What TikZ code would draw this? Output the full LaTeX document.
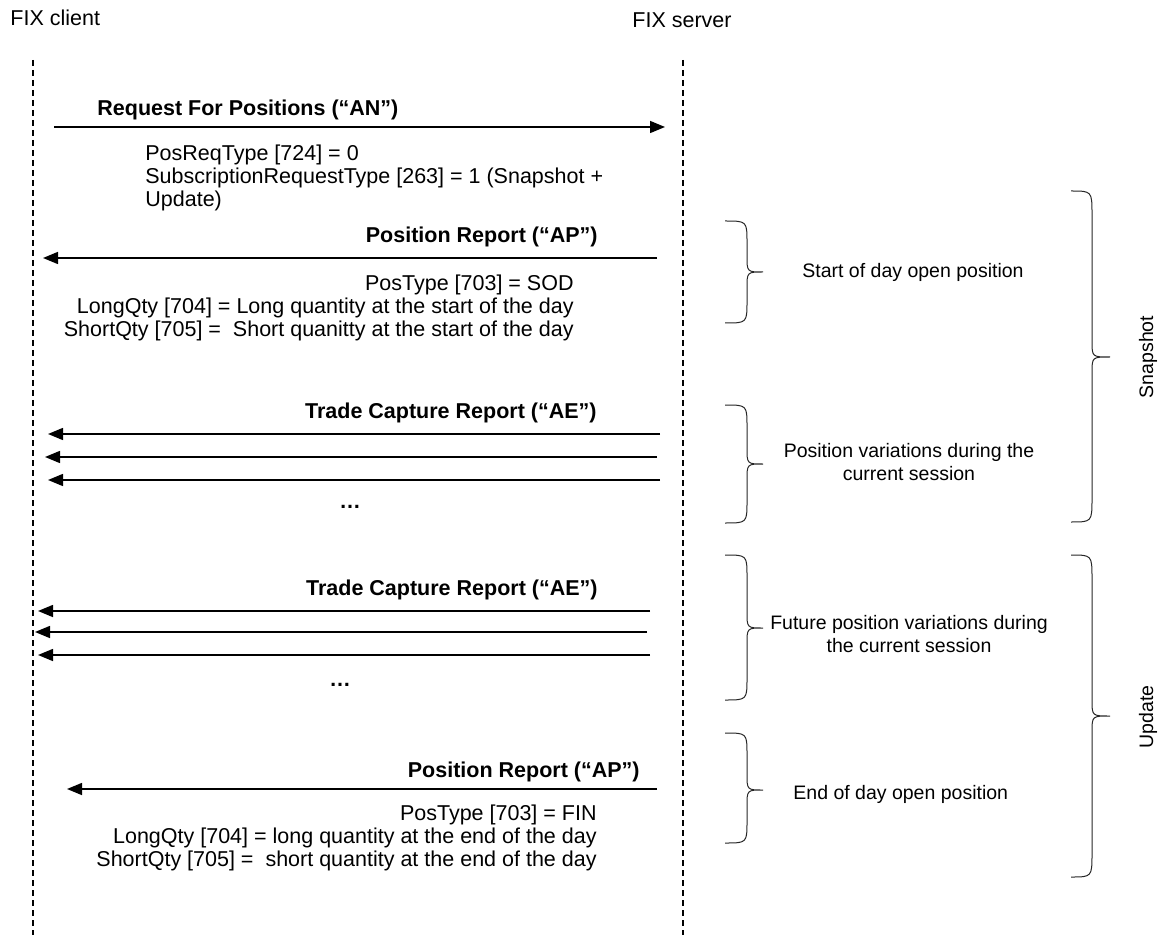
\documentclass[tikz,border=0pt]{standalone}
\usepackage{fontspec}
\setmainfont{Liberation Sans}
\usetikzlibrary{arrows.meta, positioning}

\begin{document}
\begin{tikzpicture}[
        x=0.5pt, y=-0.5pt,
        every node/.style={font=\fontsize{10.75}{11.5}\selectfont, inner sep=0pt},
        lifeline/.style={dash pattern=on 3pt off 2pt, line width=0.7pt},
        msg/.style={-{Triangle[length=7.5pt, width=6pt]}, line width=0.75pt},
        msglabel/.style={font=\bfseries\fontsize{10.75}{11.5}\selectfont},
        fields/.style={align=right},
        note/.style={font=\fontsize{9.75}{11.2}\selectfont, align=center},
        curly/.style={line width=0.5pt, black!85}
    ]
    \useasboundingbox (0,0) rectangle (1161,935);

    % Parties and lifelines
    \node[anchor=west] (client) at (10,18) {FIX client};
    \node[anchor=west] (server) at (632,20) {FIX server};
    \coordinate (ctop) at (33,60);
    \coordinate (cbot) at (33,935);
    \coordinate (stop) at (683,60);
    \coordinate (sbot) at (683,935);
    \draw[lifeline] (ctop) -- (cbot);
    \draw[lifeline] (stop) -- (sbot);

    % Request For Positions
    \coordinate (rfpa) at (54,127);
    \coordinate (rfpb) at (665,127);
    \draw[msg] (rfpa) -- (rfpb);
    \node[msglabel, anchor=west] (rfp) at (97,110) {Request For Positions (“AN”)};
    \node[align=left, anchor=west] (rfp_desc) at (145,178) {PosReqType [724] = 0\\ SubscriptionRequestType [263] = 1 (Snapshot +\\ Update)};

    % Position Report (start of day)
    \coordinate (sopa) at (657,258);
    \coordinate (sopb) at (43,258);
    \draw[msg] (sopa) -- (sopb);
    \node[msglabel, anchor=east] (sop) at (598,237) {Position Report (“AP”)};
    \node[fields, anchor=east] (sop_desc) at (574,308) {PosType [703] = SOD\\ LongQty [704] = Long quantity at the start of the day\\ ShortQty [705] = \ Short quanitty at the start of the day};

    % Trade Capture Reports (snapshot)
    \node[msglabel, anchor=east] (tcr) at (597,413) {Trade Capture Report (“AE”)};
    \foreach \y/\s/\e [count=\i] in {434/660/48, 457/657/45, 480/660/48} {
        \coordinate (tcra\i) at (\s,\y);
        \coordinate (tcrb\i) at (\e,\y);
        \draw[msg] (tcra\i) -- (tcrb\i);
    }
    \node[msglabel] (tcr_more) at (350,507) {…};

    % Trade Capture Reports (update)
    \node[msglabel, anchor=east] (utcr) at (598,590) {Trade Capture Report (“AE”)};
    \foreach \y/\s/\e [count=\i] in {611/650/38, 632/647/35, 655/650/38} {
        \coordinate (utcra\i) at (\s,\y);
        \coordinate (utcrb\i) at (\e,\y);
        \draw[msg] (utcra\i) -- (utcrb\i);
    }
    \node[msglabel] (utcr_more) at (340,685) {…};

    % Position Report (end of day)
    \coordinate (eopa) at (657,789);
    \coordinate (eopb) at (67,789);
    \draw[msg] (eopa) -- (eopb);
    \node[msglabel, anchor=east] (eop) at (640,772) {Position Report (“AP”)};
    \node[fields, anchor=east] (eop_desc) at (597,838) {PosType [703] = FIN\\ LongQty [704] = long quantity at the end of the day\\ ShortQty [705] = \ short quantity at the end of the day};

    % Small braces
    \foreach \t/\m/\b in {221/272/323, 405/464/523, 555/628/700, 733/790/843}
        \draw[curly] (725,\t) .. controls (747,\t) .. (747,\t+22) -- (747,\m-16)
            .. controls (747,\m) .. (763,\m) .. controls (747,\m) .. (747,\m+16)
            -- (747,\b-22) .. controls (747,\b) .. (725,\b);
    \node[note, anchor=west] (sod_note) at (802,272) {Start of day open position};
    \node[note] (var_note) at (909,462) {Position variations during the\\ current session};
    \node[note] (fvar_note) at (909,634) {Future position variations during\\ the current session};
    \node[note, anchor=west] (eod_note) at (793,794) {End of day open position};

    % Big braces
    \foreach \t/\m/\b in {191/357/522, 555/716/877}
        \draw[curly] (1071,\t) .. controls (1092,\t) .. (1092,\t+24) -- (1092,\m-16)
            .. controls (1092,\m) .. (1110,\m) .. controls (1092,\m) .. (1092,\m+16)
            -- (1092,\b-24) .. controls (1092,\b) .. (1071,\b);
    \node[note, rotate=90] (snap) at (1148,357) {Snapshot};
    \node[note, rotate=90] (upd) at (1148,717) {Update};
\end{tikzpicture}
\end{document}
